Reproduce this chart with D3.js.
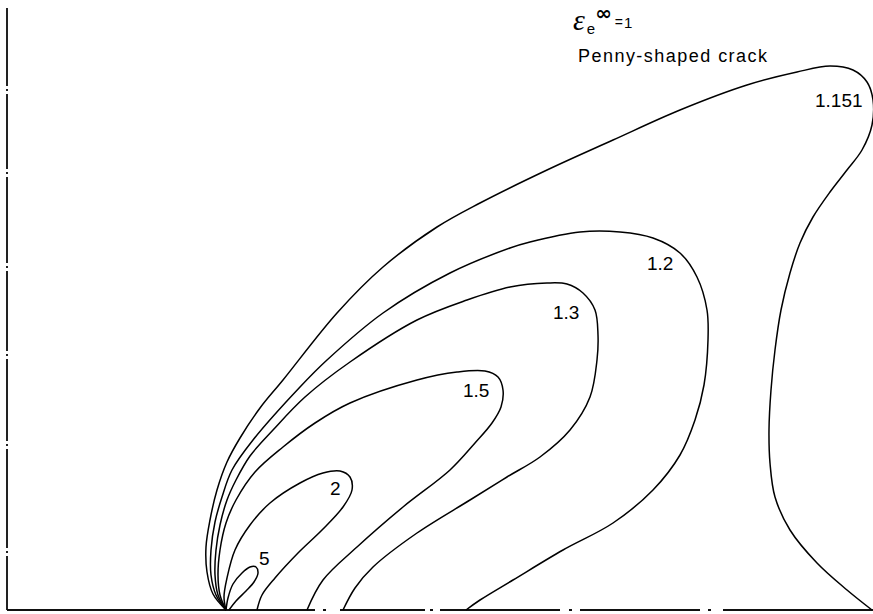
<!DOCTYPE html>
<html>
<head>
<meta charset="utf-8">
<script src="https://cdn.jsdelivr.net/npm/d3@7"></script>
<style>
  html, body { margin: 0; padding: 0; background: #fff; }
  svg { display: block; }
</style>
</head>
<body>
<svg id="chart" width="873" height="614"></svg>
<script>
// Contour levels of equivalent strain near the tip of a penny-shaped crack
const levels = ["1.151", "1.2", "1.3", "1.5", "2", "5"];

// Each contour as [r, z] pairs measured from the crack tip (arbitrary length units)
const c1151 = [[0,0],[-0.13,0.16],[-0.19,0.38],[-0.20,0.63],[-0.16,0.90],[-0.09,1.20],[0.01,1.48],
  [0.14,1.72],[0.34,2.02],[0.57,2.30],[1.11,2.97],[1.57,3.43],[2.11,3.83],[2.54,4.07],[3.21,4.40],
  [3.87,4.70],[4.54,5.00],[5.21,5.25],[5.71,5.38],[6.04,5.44],[6.27,5.40],[6.41,5.28],[6.47,5.10],
  [6.46,4.85],[6.36,4.60],[6.21,4.40],[6.04,4.18],[5.87,3.93],[5.74,3.67],[5.64,3.37],[5.55,3.00],
  [5.49,2.60],[5.45,2.20],[5.43,1.80],[5.44,1.47],[5.49,1.13],[5.64,0.80],[5.91,0.47],[6.21,0.20],
  [6.46,0.00]];
const c12 = [[0,0],[-0.10,0.15],[-0.15,0.35],[-0.15,0.60],[-0.11,0.88],[-0.04,1.13],[0.06,1.40],
  [0.27,1.70],[0.74,2.23],[1.01,2.50],[1.57,2.97],[2.24,3.37],[2.84,3.62],[3.04,3.68],[3.54,3.78],
  [3.94,3.78],[4.27,3.72],[4.54,3.57],[4.71,3.33],[4.81,3.00],[4.82,2.70],[4.78,2.25],[4.69,1.90],
  [4.54,1.55],[4.27,1.20],[3.87,0.87],[3.37,0.60],[2.87,0.30],[2.54,0.10],[2.40,0]];
const c13 = [[0,0],[-0.08,0.15],[-0.11,0.35],[-0.10,0.60],[-0.06,0.85],[0.01,1.10],[0.10,1.30],
  [0.24,1.54],[0.47,1.80],[0.79,2.13],[1.24,2.48],[1.91,2.90],[2.41,3.10],[2.84,3.23],[3.21,3.27],
  [3.41,3.26],[3.57,3.17],[3.69,3.00],[3.72,2.75],[3.71,2.50],[3.64,2.13],[3.44,1.80],[3.14,1.53],
  [2.81,1.33],[2.44,1.10],[1.91,0.77],[1.47,0.43],[1.29,0.22],[1.17,0]];
const c15 = [[0,0],[-0.06,0.15],[-0.08,0.35],[-0.06,0.60],[0.00,0.87],[0.10,1.10],[0.29,1.38],
  [0.57,1.63],[0.89,1.87],[1.24,2.07],[1.91,2.30],[2.31,2.38],[2.59,2.39],[2.72,2.33],[2.77,2.20],
  [2.75,2.03],[2.66,1.87],[2.49,1.67],[2.24,1.40],[1.77,1.03],[1.31,0.63],[0.97,0.30],[0.81,0]];
const c2 = [[0,0],[-0.02,0.13],[0.01,0.32],[0.09,0.60],[0.24,0.85],[0.44,1.07],[0.74,1.27],
  [0.97,1.37],[1.14,1.39],[1.24,1.33],[1.26,1.20],[1.17,1.03],[0.96,0.80],[0.72,0.57],[0.49,0.32],
  [0.36,0.15],[0.31,0]];
const c5 = [[0,0],[0.02,0.12],[0.07,0.26],[0.16,0.37],[0.24,0.43],[0.30,0.43],[0.32,0.37],
  [0.28,0.28],[0.20,0.19],[0.10,0.09],[0.03,0]];

const contours = [c1151, c12, c13, c15, c2, c5];

// Where each level's number is written, in the same units
const labelAt = [[5.89,5.03],[4.21,3.40],[3.27,2.91],[2.37,2.13],[1.04,1.15],[0.33,0.45]];

const svg = d3.select("#chart");
const x = d3.scaleLinear().domain([-2.19, 6.47]).range([7, 873]);
const y = d3.scaleLinear().domain([0, 6.10]).range([610, 0]);

const line = d3.line()
  .x(d => x(d[0]))
  .y(d => y(d[1]))
  .curve(d3.curveCatmullRom.alpha(0.5));

// frame: dash-dot left edge, partly broken bottom edge
svg.append("line")
  .attr("x1", x(-2.19)).attr("x2", x(-2.19))
  .attr("y1", y(6.02)).attr("y2", y(0))
  .attr("stroke", "#222").attr("stroke-width", 2)
  .attr("stroke-dasharray", "78,3,2,3,75,3,2,3,86,3,2,3,80,3,2,3,82,3,2,3,99,3,2,3,60");

svg.append("line")
  .attr("x1", x(-2.19)).attr("x2", x(6.47))
  .attr("y1", y(0)).attr("y2", y(0))
  .attr("stroke", "#111").attr("stroke-width", 2.2)
  .attr("stroke-dasharray", "308,8,3,14,85,5,3,7,120,9,3,8,120,8,3,12,160");

svg.append("g")
  .selectAll("path")
  .data(contours)
  .join("path")
  .attr("d", line)
  .attr("fill", "none")
  .attr("stroke", "#000")
  .attr("stroke-width", 1.5)
  .attr("stroke-linejoin", "round");

svg.append("g")
  .selectAll("text")
  .data(levels)
  .join("text")
  .attr("x", (d, i) => x(labelAt[i][0]))
  .attr("y", (d, i) => y(labelAt[i][1]))
  .attr("font-family", "'Liberation Sans', Arial, sans-serif")
  .attr("font-size", 19)
  .attr("fill", "#000")
  .text(d => d);

// title block: far-field equivalent strain and crack type
const head = svg.append("text")
  .attr("x", 573).attr("y", 30)
  .attr("fill", "#000")
  .attr("font-family", "'Liberation Sans', sans-serif");
head.append("tspan")
  .attr("font-family", "'Liberation Serif', serif").attr("font-style", "italic")
  .attr("font-size", 30).text("ε");
head.append("tspan").attr("dx", 2).attr("dy", 4).attr("font-size", 15).text("e");
head.append("tspan").attr("dx", 0).attr("dy", -14)
  .attr("font-family", "'DejaVu Sans', sans-serif").attr("font-weight", "bold")
  .attr("font-size", 20).text("∞");
head.append("tspan").attr("dx", 3).attr("dy", 7).attr("font-size", 14).text("=");
head.append("tspan").attr("dx", 1).attr("dy", 1).attr("font-size", 15).text("1");

svg.append("text").attr("x", 578).attr("y", 62)
  .attr("fill", "#000")
  .attr("font-family", "'Liberation Sans', sans-serif").attr("font-size", 18)
  .attr("textLength", 189).attr("lengthAdjust", "spacing")
  .text("Penny-shaped crack");
</script>
</body>
</html>
